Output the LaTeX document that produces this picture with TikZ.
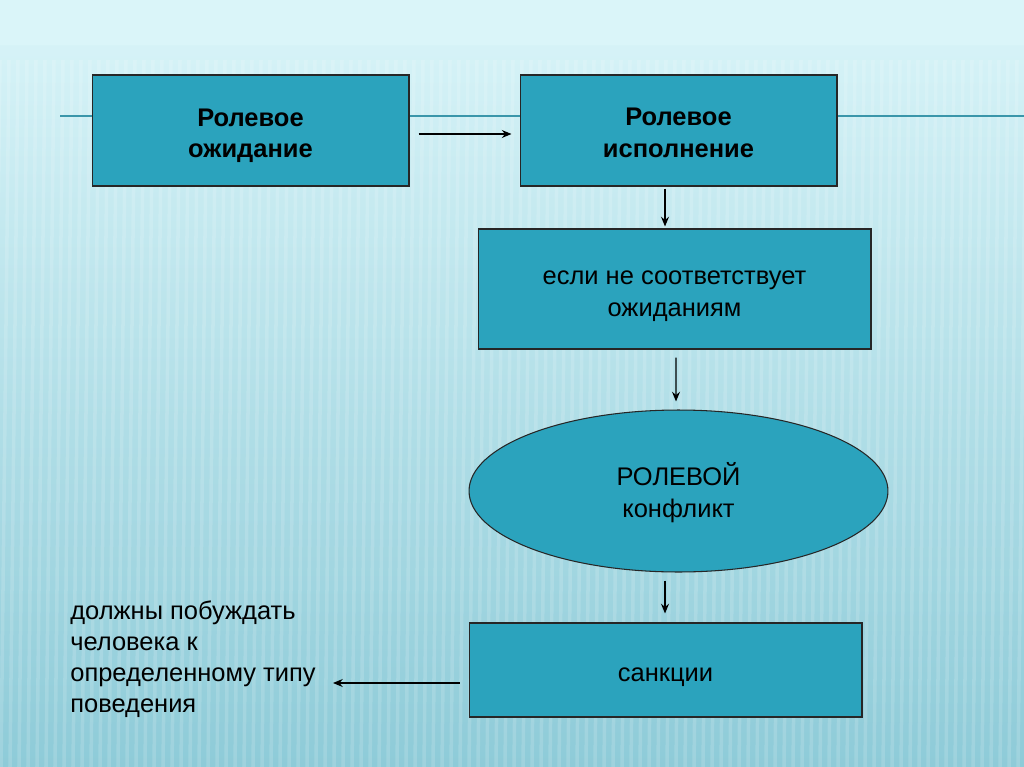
\documentclass[tikz,border=0pt]{standalone}
\usepackage{fontspec}
\setmainfont{Liberation Sans}
\usetikzlibrary{shapes.geometric,arrows.meta}
\definecolor{boxfill}{RGB}{43,163,189}
\definecolor{bgtop}{RGB}{218,245,249}
\definecolor{bgmid}{RGB}{178,224,233}
\definecolor{bgbot}{RGB}{142,203,216}
\definecolor{rulecol}{RGB}{58,150,170}

\begin{document}
\begin{tikzpicture}
[x=0.02cm,y=-0.02cm,
 box/.style={draw=black!85,fill=boxfill,line width=0.6pt,inner sep=0pt,align=center,
   font=\fontsize{14.5}{18.1}\selectfont},
 oval/.style={box,ellipse},
 arr/.style={-{Stealth[length=5.5pt,width=4.5pt]},line width=0.8pt},
 stripe/.style={white,opacity=0.15,line width=2pt}]
\useasboundingbox (0,0) rectangle (1024,767);
% background
\begin{scope}
\clip (0,0) rectangle (1024,767);
\shade[top color=bgtop,middle color=bgmid,bottom color=bgbot] (0,0) rectangle (1024,767);
\fill[bgtop] (0,0) rectangle (1024,45);
\foreach \x in {0,9,...,1040}
  \draw[stripe] (\x,60) -- (\x-8,767);
\end{scope}
\draw[rulecol,line width=1.3pt] (60,116) -- (1024,116);

\node[box,minimum width=6.34cm,minimum height=2.22cm,font=\fontsize{14.5}{18.1}\selectfont\bfseries]
  (A) at (250.5,130.5) {\rule{0pt}{16pt}Ролевое\\ожидание};
\node[box,minimum width=6.34cm,minimum height=2.22cm,font=\fontsize{14.5}{18.1}\selectfont\bfseries]
  (B) at (678.5,130.5) {\rule{0pt}{13pt}Ролевое\\исполнение};
\node[box,minimum width=7.86cm,minimum height=2.4cm] (C) at (674.5,289)
  {\rule{0pt}{16pt}если не соответствует\\ожиданиям};
\node[oval,minimum width=8.38cm,minimum height=3.24cm] (D) at (678.5,491)
  {\rule{0pt}{15pt}РОЛЕВОЙ\\конфликт};
\node[box,minimum width=7.86cm,minimum height=1.88cm] (E) at (665.5,670)
  {\rule{0pt}{16pt}санкции};
\node[anchor=west,align=left,inner sep=0pt,font=\fontsize{14.5}{17.6}\selectfont]
  (F) at (70,659) {должны побуждать\\человека к\\определенному типу\\поведения};
\coordinate (Ftip) at (333,683);

\draw[arr] ([shift={(9,3.5)}]A.east) -- ([shift={(-8,3.5)}]B.west);
\draw[arr] ([shift={(-13.5,2)}]B.south) -- ([shift={(-9.5,-2)}]C.north);
\draw[arr] ([shift={(1.5,8)}]C.south) -- ([shift={(-2.5,-8)}]D.north);
\draw[arr] ([shift={(-13.5,8)}]D.south) -- ([shift={(-0.5,-9)}]E.north);
\draw[arr] ([shift={(-9,13)}]E.west) -- (Ftip);
\end{tikzpicture}
\end{document}
